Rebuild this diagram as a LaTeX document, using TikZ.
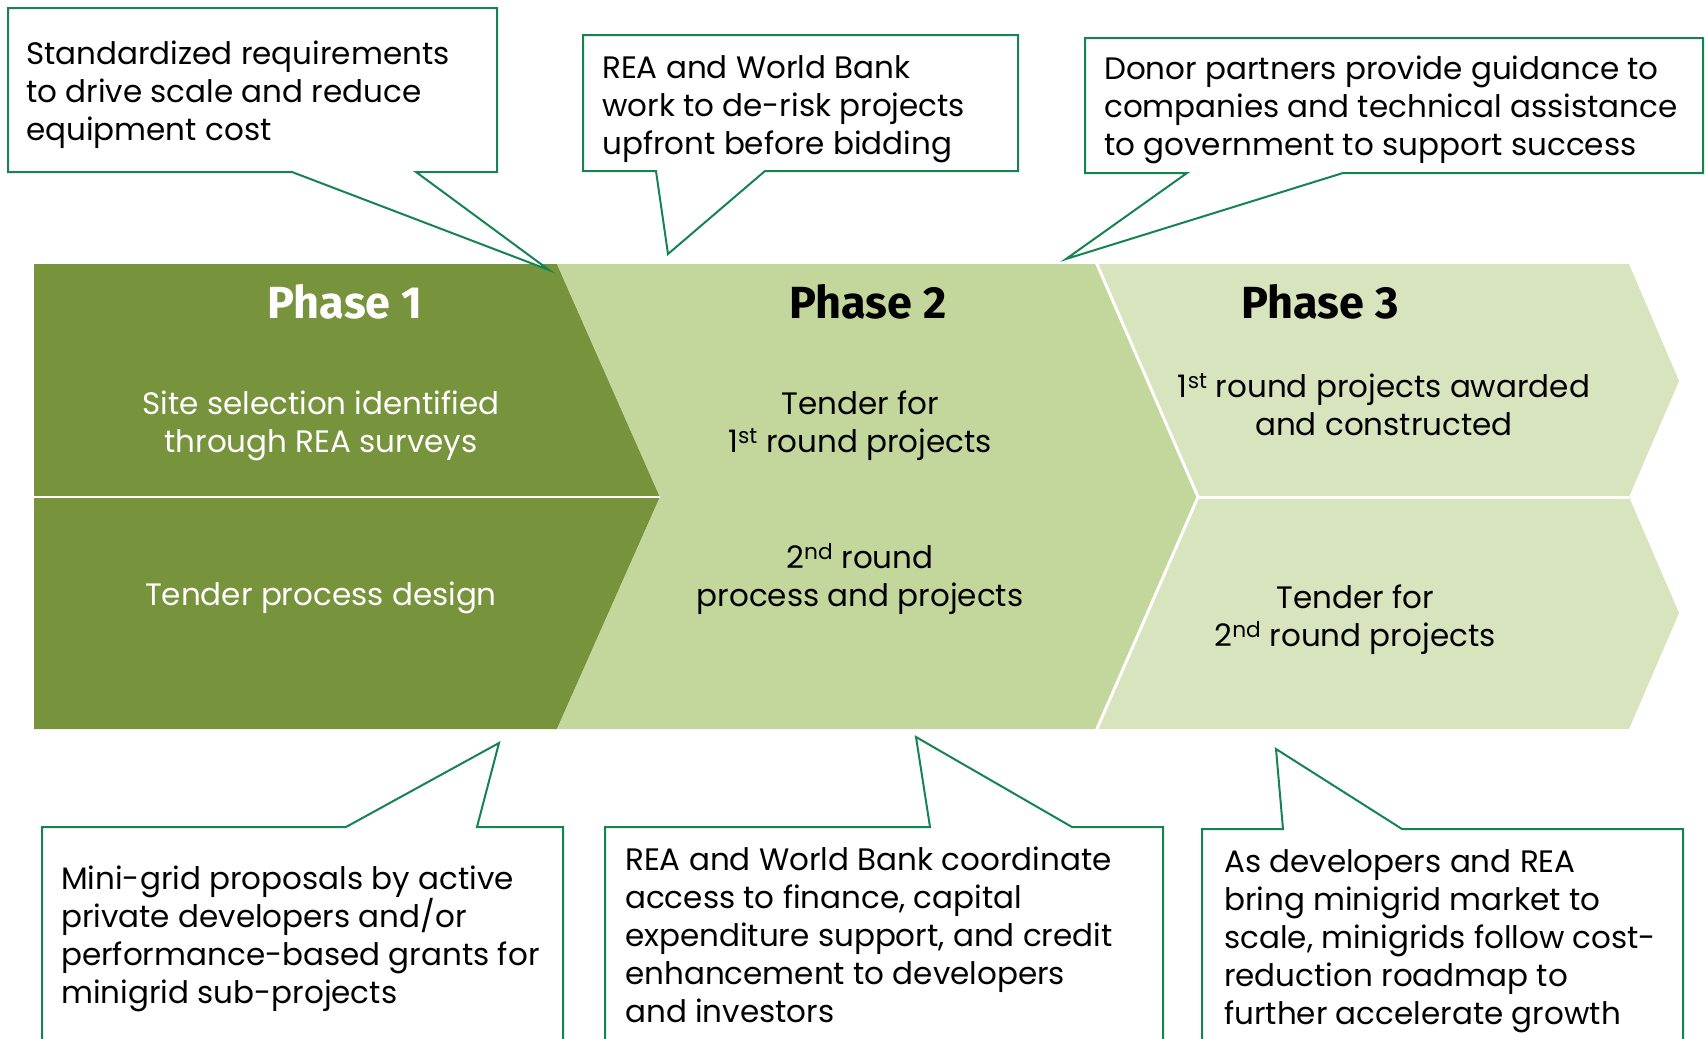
\documentclass[tikz,border=0pt]{standalone}
\usepackage{fontspec}
\setmainfont{Poppins}
\newfontfamily\titlefont{Fira Sans}
\usetikzlibrary{positioning}
\usetikzlibrary{calc}

\definecolor{phaseOne}{RGB}{119,147,60}
\definecolor{phaseTwo}{RGB}{195,214,155}
\definecolor{phaseThree}{RGB}{215,228,189}
\definecolor{calloutGreen}{RGB}{22,132,82}

\begin{document}
\begin{tikzpicture}[x=1pt,y=-1pt]

\tikzstyle{calloutLine}=[draw=calloutGreen,line width=2pt,fill=white,line join=miter];
\tikzstyle{calloutText}=[anchor=base west,align=left,inner sep=0pt,font=\fontsize{31}{38}\selectfont];
\tikzstyle{phaseTitle}=[inner sep=0pt,font=\titlefont\bfseries\fontsize{45}{50}\selectfont];
\tikzstyle{phaseText}=[inner sep=0pt,align=center,font=\fontsize{31}{38}\selectfont];

\useasboundingbox (0,0) rectangle (1706,1039);
\clip (0,0) rectangle (1706,1039);

% the three phases
\fill [phaseOne] (34,264) -- (557,264) -- (660,497) -- (557,729) -- (34,729) -- cycle;
\fill [phaseTwo] (557,264) -- (1096,264) -- (1198,497) -- (1096,729) -- (557,729) -- (660,497) -- cycle;
\fill [phaseThree] (1096,264) -- (1629,264) -- (1679,381) -- (1629,497) -- (1198,497) -- cycle;
\fill [phaseThree] (1198,497) -- (1629,497) -- (1679,613) -- (1629,729) -- (1096,729) -- cycle;

\draw [white,line width=2pt] (34,497) -- (660,497);
\draw [white,line width=3pt] (1096,262) -- (1198,497) -- (1096,731);
\draw [white,line width=3pt] (1198,497) -- (1629,497);

\node [phaseTitle,white] (titleOne) at (345,302) {Phase 1};
\node [phaseTitle] (titleTwo) at (868,302) {Phase 2};
\node [phaseTitle] (titleThree) at (1320,302) {Phase 3};

\node [phaseText,white] (siteSel) at (321,426) {Site selection identified\\through REA surveys};
\node [phaseText,white] (tenderDesign) at (321,598) {Tender process design};
\node [phaseText] (tenderOne) at (860,426) {Tender for\\1\textsuperscript{st} round projects};
\node [phaseText] (roundTwo) at (860,579) {2\textsuperscript{nd} round\\process and projects};
\node [phaseText] (awarded) at (1384,405) {1\textsuperscript{st} round projects awarded\\and constructed};
\node [phaseText] (tenderTwo) at (1355,620) {Tender for\\2\textsuperscript{nd} round projects};

% callouts above (text anchored at last baseline)
\draw [calloutLine] (8,8) -- (497,8) -- (497,172) -- (416,172) -- (549,270) -- (292,172) -- (8,172) -- cycle;
\node [calloutText] (stdReq) at (26,140) {Standardized requirements\\to drive scale and reduce\\equipment cost};

\draw [calloutLine] (583,35) -- (1018,35) -- (1018,171) -- (765,171) -- (668,254) -- (656,171) -- (583,171) -- cycle;
\node [calloutText] (deRisk) at (602,154) {REA and World Bank\\work to de-risk projects\\upfront before bidding};

\draw [calloutLine] (1085,38) -- (1703,38) -- (1703,173) -- (1343,173) -- (1066,259) -- (1187,173) -- (1085,173) -- cycle;
\node [calloutText] (donor) at (1104,155) {Donor partners provide guidance to\\companies and technical assistance\\to government to support success};

% callouts below
\draw [calloutLine] (42,1060) -- (42,827) -- (346,827) -- (499,743) -- (477,827) -- (563,827) -- (563,1060);
\node [calloutText] (proposals) at (61,1003) {Mini-grid proposals by active\\private developers and/or\\performance-based grants for\\minigrid sub-projects};

\draw [calloutLine] (605,1060) -- (605,827) -- (930,827) -- (916,737) -- (1072,827) -- (1163,827) -- (1163,1060);
\node [calloutText] (finance) at (625,1022) {REA and World Bank coordinate\\access to finance, capital\\expenditure support, and credit\\enhancement to developers\\and investors};

\draw [calloutLine] (1202,1060) -- (1202,829) -- (1283,829) -- (1276,749) -- (1402,829) -- (1683,829) -- (1683,1060);
\node [calloutText] (scale) at (1224,1024) {As developers and REA\\bring minigrid market to\\scale, minigrids follow cost-\\reduction roadmap to\\further accelerate growth};

\end{tikzpicture}
\end{document}
